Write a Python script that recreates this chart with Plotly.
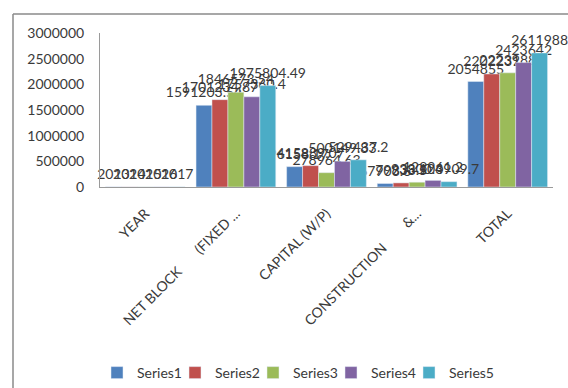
import plotly.graph_objects as go

categories = ["YEAR",
              "NET BLOCK\u00a0\u00a0\u00a0\u00a0\u00a0\u00a0\u00a0(FIXED ...",
              "CAPITAL (W/P)",
              "CONSTRUCTION\u00a0\u00a0\u00a0\u00a0\u00a0\u00a0\u00a0\u00a0&...",
              "TOTAL"]
series_names = ["Series1", "Series2", "Series3", "Series4", "Series5"]
series1 = [2013, 1591203.54, 396158.17, 67903.6, 2054855]
series2 = [2014, 1701234.87, 415889.07, 79838.5, 2202231]
series3 = [2015, 1846573.54, 278964.63, 93300.4, 2223988]
series4 = [2016, 1757360.40, 500149.83, 128961.2, 2423642]
series5 = [2017, 1975804.49, 529437.20, 103909.7, 2611988]
colors = ["#4F81BD", "#C0504D", "#9BBB59", "#8064A2", "#4BACC6"]
y_ticks = [0, 500000, 1000000, 1500000, 2000000, 2500000, 3000000]

FONT = "Lato, Open Sans, sans-serif"
TXT = "#3a3a3a"

def fmt(v):
    if float(v).is_integer():
        return str(int(v))
    return ("%.2f" % v).rstrip("0").rstrip(".")

def label(v):
    # value in 14px, followed by a small blank line that lifts the label off the bar
    return "<span style='font-size:14px'>" + fmt(v) + "</span><br>\u00a0"

all_series = [series1, series2, series3, series4, series5]
fig = go.Figure()
for i, (name, vals, col) in enumerate(zip(series_names, all_series, colors)):
    fig.add_trace(go.Bar(
        name=name, x=categories, y=vals, marker_color=col,
        text=[label(v) for v in vals], textposition="outside",
        constraintext="none", cliponaxis=False,
        textfont=dict(family=FONT, size=3, color=TXT),
        hoverinfo="x+y+name",
        legendwidth=33 if i < len(series_names) - 1 else 52,
    ))

# geometry helpers (paper coordinates for the chart-area border)
L, R, T, B = 100, 15, 33, 201
W, H = 568 - L - R, 388 - T - B
px = lambda x: (x - L) / W
py = lambda y: (388 - B - y) / H

fig.update_layout(
    width=568, height=388,
    margin=dict(l=L, r=R, t=T, b=B, autoexpand=False),
    paper_bgcolor="white", plot_bgcolor="white",
    barmode="group", bargap=0.12, bargroupgap=0,
    font=dict(family=FONT, size=14, color=TXT),
    showlegend=True,
    legend=dict(orientation="h", xref="container", yref="container",
                x=97 / 568, xanchor="left", y=1 - 373 / 388, yanchor="middle",
                font=dict(family=FONT, size=14, color=TXT),
                traceorder="normal"),
    xaxis=dict(showline=True, linecolor="#9a9a9a", linewidth=1, tickangle=-45,
               showgrid=False, ticks="", automargin=False,
               tickfont=dict(family=FONT, size=14, color=TXT),
               ticklabelstandoff=12),
    yaxis=dict(range=[0, 3000000], tickvals=y_ticks, ticktext=[str(v) for v in y_ticks],
               showline=True, linecolor="#9a9a9a", linewidth=1, showgrid=False,
               zeroline=False, ticks="", ticklabelstandoff=12, automargin=False,
               tickfont=dict(family=FONT, size=14, color=TXT)),
    shapes=[
        dict(type="line", xref="paper", yref="paper", x0=px(13), x1=px(13), y0=py(14), y1=py(390),
             line=dict(color="#8a8a8a", width=1.5)),
        dict(type="line", xref="paper", yref="paper", x0=px(13), x1=px(570), y0=py(14), y1=py(14),
             line=dict(color="#8a8a8a", width=1.5)),
    ],
)

fig.write_html("out.html")
